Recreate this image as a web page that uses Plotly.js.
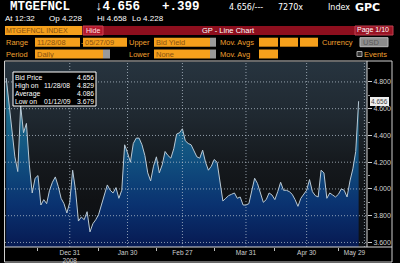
<!DOCTYPE html>
<html><head><meta charset="utf-8">
<script src="https://cdn.plot.ly/plotly-3.0.1.min.js"></script>
<style>html,body{margin:0;padding:0;background:#000;}#chart{width:400px;height:263px;}</style>
</head><body><div id="chart"></div>
<script>
// ---- data ----
const dates = [
 '2008-11-28',
 '2008-12-01','2008-12-02','2008-12-03','2008-12-04','2008-12-05',
 '2008-12-08','2008-12-09','2008-12-10','2008-12-11','2008-12-12',
 '2008-12-15','2008-12-16','2008-12-17','2008-12-18','2008-12-19',
 '2008-12-22','2008-12-23','2008-12-24','2008-12-26',
 '2008-12-29','2008-12-30','2008-12-31',
 '2009-01-02',
 '2009-01-05','2009-01-06','2009-01-07','2009-01-08','2009-01-09',
 '2009-01-12','2009-01-13','2009-01-14','2009-01-15','2009-01-16',
 '2009-01-20','2009-01-21','2009-01-22','2009-01-23',
 '2009-01-26','2009-01-27','2009-01-28','2009-01-29','2009-01-30',
 '2009-02-02','2009-02-03','2009-02-04','2009-02-05','2009-02-06',
 '2009-02-09','2009-02-10','2009-02-11','2009-02-12','2009-02-13',
 '2009-02-17','2009-02-18','2009-02-19','2009-02-20',
 '2009-02-23','2009-02-24','2009-02-25','2009-02-26','2009-02-27',
 '2009-03-02','2009-03-03','2009-03-04','2009-03-05','2009-03-06',
 '2009-03-09','2009-03-10','2009-03-11','2009-03-12','2009-03-13',
 '2009-03-16','2009-03-17','2009-03-18','2009-03-19','2009-03-20',
 '2009-03-23','2009-03-24','2009-03-25','2009-03-26','2009-03-27',
 '2009-03-30','2009-03-31',
 '2009-04-01','2009-04-02','2009-04-03',
 '2009-04-06','2009-04-07','2009-04-08','2009-04-09',
 '2009-04-13','2009-04-14','2009-04-15','2009-04-16','2009-04-17',
 '2009-04-20','2009-04-21','2009-04-22','2009-04-23','2009-04-24',
 '2009-04-27','2009-04-28','2009-04-29','2009-04-30',
 '2009-05-01',
 '2009-05-04','2009-05-05','2009-05-06','2009-05-07','2009-05-08',
 '2009-05-11','2009-05-12','2009-05-13','2009-05-14','2009-05-15',
 '2009-05-18','2009-05-19','2009-05-20','2009-05-21','2009-05-22',
 '2009-05-26','2009-05-27'
];
const bidYield = [
 4.829,
 4.64,4.44,4.24,4.13,4.62,
 4.42,4.49,4.18,3.97,4.08,
 4.10,3.88,3.92,3.89,3.99,
 4.05,4.09,4.02,3.93,
 3.89,3.82,3.90,
 4.14,
 3.99,3.76,3.79,3.77,3.83,
 3.679,3.74,3.77,3.81,3.88,
 3.96,4.03,3.99,3.97,
 4.01,3.93,3.99,4.33,4.27,
 4.20,4.34,4.38,4.38,4.33,
 4.25,4.12,4.06,4.17,4.24,
 4.12,4.18,4.28,4.25,
 4.23,4.30,4.41,4.42,4.45,
 4.36,4.34,4.33,4.29,4.24,
 4.23,4.29,4.20,4.14,4.17,
 4.22,4.20,4.04,3.91,3.93,
 3.95,3.96,3.97,3.93,3.94,
 3.88,3.88,
 3.89,3.98,4.08,
 4.04,3.97,3.90,3.92,
 3.97,3.955,3.92,3.98,4.05,
 3.99,3.99,3.98,3.96,3.92,
 3.87,3.93,3.96,3.99,
 4.07,
 3.98,3.95,3.94,4.14,4.12,
 3.93,3.97,3.955,3.94,3.96,
 4.00,3.99,3.94,4.06,4.15,
 4.28,4.656
];
const extraDays = ['2009-05-28','2009-05-29'];
const xTickDates = ['2008-12-31','2009-01-30','2009-02-27','2009-03-31','2009-04-30','2009-05-29'];
const xTickLabels = ['Dec 31<br>2008','Jan 30','Feb 27','Mar 31','Apr 30','May 29'];
const xMinorDates = ['2008-12-15','2009-01-15','2009-02-13','2009-03-16','2009-04-15','2009-05-15'];
const yTicks = [3.6,3.8,4.0,4.2,4.4,4.6,4.8];
const legendLabels = ['Bid Price','High on','Average','Low on'];
const legendDates = ['','11/28/08','','01/12/09'];
const legendValues = ['4.656','4.829','4.086','3.679'];

// ---- layout helpers (pixel -> paper) ----
const L=5, R=367, T=62, B=247;
const P = x => (x-L)/(R-L);
const Q = y => (B-y)/(B-T);
const ORANGE='#f5a01c', GRAY='#9a9a9a', DARKTXT='#8a5210', LBL='#f0a030';
const ann=[], shp=[];
function txt(t,x,y,size,color,o){ o=o||{};
  ann.push(Object.assign({text:t,xref:'paper',yref:'paper',x:P(x),y:Q(y),xanchor:o.anchor||'left',yanchor:'middle',
    showarrow:false,borderpad:0,borderwidth:0,font:{family:o.family||'Liberation Sans, Arial, sans-serif',size:size,color:color}},o.extra||{}));
}
function rect(x0,y0,x1,y1,fill,lc,lw){
  shp.push({type:'rect',xref:'paper',yref:'paper',x0:P(x0),x1:P(x1),y0:Q(y0),y1:Q(y1),fillcolor:fill,
    line:{color:lc||'rgba(0,0,0,0)',width:lw||0},layer:'above'});
}
function hline(x0,x1,y,c){shp.push({type:'line',xref:'paper',yref:'paper',x0:P(x0),x1:P(x1),y0:Q(y),y1:Q(y),line:{color:c,width:1},layer:'above'});}
function vline(x,y0,y1,c){shp.push({type:'line',xref:'paper',yref:'paper',x0:P(x),x1:P(x),y0:Q(y0),y1:Q(y1),line:{color:c,width:1},layer:'above'});}

// header
const MONO='Liberation Mono, DejaVu Sans Mono, monospace';
txt('<b>MTGEFNCL</b>',10,7.5,12.5,'#ffffff',{family:MONO});
txt('<b>↓4.656</b>',95,7.5,12.5,'#ffffff',{family:MONO});
txt('<b>+.399</b>',162,7.5,12.5,'#ffffff',{family:MONO});
txt('4.656/---',229,7.5,8,'#ffffff',{family:'DejaVu Sans, sans-serif'});
txt('7270x',278,7.5,8,'#ffffff',{family:'DejaVu Sans, sans-serif'});
txt('Index',328,7.5,8,'#ffffff',{family:'DejaVu Sans, sans-serif'});
txt('<b>GPC</b>',355,7.5,11,'#ffffff',{family:'DejaVu Sans, sans-serif'});
const S2='Liberation Sans, Arial, sans-serif';
txt('At 12:32',5,18.5,8,'#ffffff',{family:S2});
txt('Op 4.228',49,18.5,8,'#ffffff',{family:S2});
txt('Hi 4.658',97,18.5,8,'#ffffff',{family:S2});
txt('Lo 4.228',132,18.5,8,'#ffffff',{family:S2});

// row 1
rect(5,26,82,35,ORANGE);
txt('MTGEFNCL INDEX',6,30.5,7,DARKTXT);
rect(103,26,393,35,'#8e0f1e');
rect(83,26,103,35,'#b3182c','#d04050',1);
txt('Hide',86,30.5,7,'#ffe0e0');
txt('GP - Line Chart',202,30.5,7.5,'#ffffff');
rect(355,26,393,35,'#9a1424','#c04050',1);
txt('Page 1/10',357,30.5,7,'#ffffff');
// row 2
txt('Range',6,42.2,7.5,LBL);
rect(35,37.7,80,46.7,ORANGE); txt('11/28/08',37,42.2,7.5,DARKTXT);
txt('-',81,42.2,7.5,LBL);
rect(83,37.7,127,46.7,ORANGE); txt('05/27/09',85,42.2,7.5,DARKTXT);
txt('Upper',129,42.2,7.5,LBL);
rect(154,37.7,210,46.7,ORANGE); rect(210,37.7,216,46.7,GRAY); txt('Bid Yield',156,42.2,7.5,DARKTXT);
txt('Mov. Avgs',220,42.2,7.5,LBL);
rect(259,37.7,278,46.7,ORANGE); rect(280,37.7,298,46.7,ORANGE); rect(300,37.7,318,46.7,ORANGE);
txt('Currency',322,42.2,7.5,LBL);
rect(360,37.7,388,46.7,'#8c8c8c','#bdbdbd',1); txt('USD',363,42.2,7.5,'#5a5a5a');
// row 3
txt('Period',6,54,7.5,LBL);
rect(35,49.5,103,58.5,ORANGE); rect(103,49.5,110,58.5,GRAY); txt('Daily',37,54,7.5,DARKTXT);
txt('Lower',129,54,7.5,LBL);
rect(154,49.5,210,58.5,ORANGE); rect(210,49.5,216,58.5,GRAY); txt('None',156,54,7.5,DARKTXT);
txt('Mov. Avg',220,54,7.5,LBL);
rect(259,49.5,278,58.5,ORANGE);
rect(357,51.5,362,56.5,'#333333','#aaaaaa',1);
txt('Events',364,54,7.5,LBL);

// chart frame & axes lines
rect(4.5,61,392,262,'rgba(0,0,0,0)','#cfcfcf',1);
hline(4.5,392,247,'#d8d8d8');
vline(367,61,247,'#d8d8d8');

// gridlines from tick arrays (drawn above the fill like the original)
const GRID='rgba(185,198,210,0.75)';
yTicks.forEach(v=>shp.push({type:'line',xref:'paper',x0:0,x1:1,yref:'y',y0:v,y1:v,line:{color:GRID,width:1,dash:'1px,2px'},layer:'above'}));
xTickDates.forEach(d=>shp.push({type:'line',xref:'x',x0:d,x1:d,yref:'paper',y0:0,y1:1,line:{color:GRID,width:1,dash:'1px,2px'},layer:'above'}));

// legend box
rect(13,72,96,106,'#000000','#ffffff',1);
const ly=[77.5,85.5,93.5,101.5];
legendLabels.forEach((t,i)=>{
  txt(t,15,ly[i],6.8,'#ffffff');
  if(legendDates[i]) txt(legendDates[i],44,ly[i],6.8,'#ffffff');
  txt(legendValues[i],94,ly[i],6.8,'#ffffff',{anchor:'right'});
});

// last value marker
ann.push({text:legendValues[0],xref:'paper',yref:'y',x:P(369.5),y:bidYield[bidYield.length-1],xanchor:'left',yanchor:'middle',
  showarrow:false,bgcolor:'#eeeeee',borderpad:1,borderwidth:0,font:{family:'Liberation Sans, Arial, sans-serif',size:6.5,color:'#444444'}});

const bgSvg = "<svg xmlns='http://www.w3.org/2000/svg' viewBox='0 0 10 100' width='10' height='100' preserveAspectRatio='none'>"+
 "<defs><linearGradient id='g' x1='0' y1='0' x2='0' y2='1'>"+
 "<stop offset='0' stop-color='#27343f'/><stop offset='0.3' stop-color='#1f2830'/>"+
 "<stop offset='0.55' stop-color='#15191d'/><stop offset='0.75' stop-color='#101215'/>"+
 "<stop offset='1' stop-color='#0c1016'/></linearGradient></defs>"+
 "<rect width='10' height='100' fill='url(#g)'/></svg>";

const trace = {
  x: dates, y: bidYield, type:'scatter', mode:'lines',
  line:{color:'#b9c9d5',width:1},
  fill:'tozeroy',
  fillgradient:{type:'vertical',start:3.566,stop:4.83,
    colorscale:[[0,'#071a52'],[0.25,'#0a3270'],[0.5,'#104e7e'],[0.75,'#1a6688'],[1,'#2d82a2']]},
  hoverinfo:'skip'
};

const layout = {
  width:400,height:263,
  margin:{l:L,r:400-R,t:T,b:263-B,pad:0},
  paper_bgcolor:'#000000', plot_bgcolor:'#141a20',
  showlegend:false,
  images:[{source:'data:image/svg+xml;charset=utf-8,'+encodeURIComponent(bgSvg),xref:'paper',yref:'paper',
    x:0,y:1,sizex:1,sizey:1,sizing:'stretch',xanchor:'left',yanchor:'top',layer:'below'}],
  xaxis:{type:'category',categoryorder:'array',categoryarray:dates.concat(extraDays),
    range:[-0.42,124.9],tickmode:'array',tickvals:xTickDates,ticktext:xTickLabels.map((t,i)=>i===xTickLabels.length-1?t+'\u00a0'.repeat(11):t),
    ticks:'',showgrid:false,zeroline:false,showline:false,
    tickfont:{family:'Liberation Sans, Arial, sans-serif',size:6.5,color:'#d0d0d0'},
    minor:{tickvals:xMinorDates,ticks:'outside',ticklen:3,tickcolor:'#bbbbbb',tickwidth:1,showgrid:false}},
  yaxis:{side:'right',range:[3.566,4.949],tickmode:'array',tickvals:yTicks,tickformat:'.3f',
    ticks:'outside',ticklen:4,tickcolor:'#cccccc',tickwidth:1,
    showgrid:false,zeroline:false,showline:false,
    tickfont:{family:'Liberation Sans, Arial, sans-serif',size:7,color:'#d0d0d0'},
    minor:{dtick:0.1,tick0:3.6,ticks:'outside',ticklen:2,tickcolor:'#999999',showgrid:false}},
  shapes:shp, annotations:ann
};
Plotly.newPlot('chart',[trace],layout,{displayModeBar:false,staticPlot:true});
</script></body></html>
